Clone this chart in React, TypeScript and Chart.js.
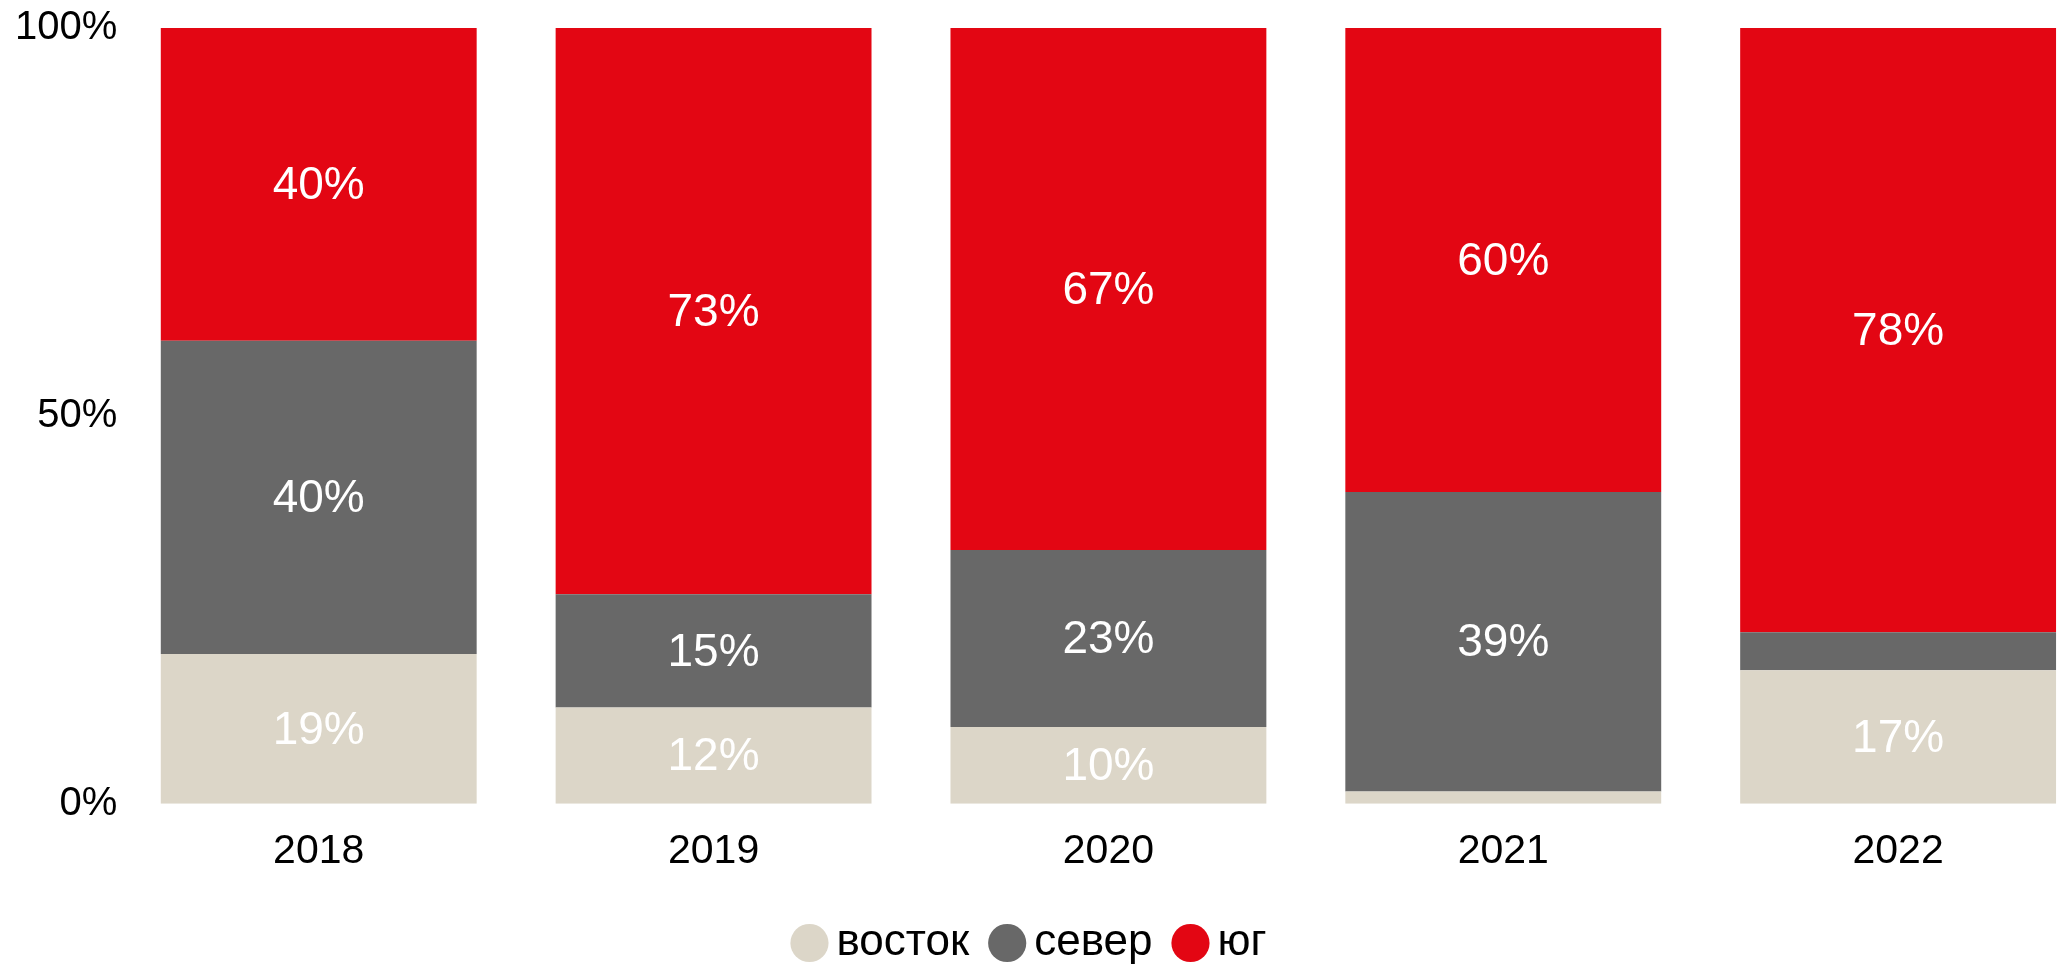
import React, { useEffect, useRef } from "react";
import { Chart, registerables } from "chart.js";

Chart.register(...registerables);

// ---- data ----
const years = [2018, 2019, 2020, 2021, 2022];
const vostok = [19.3, 12.4, 9.9, 1.6, 17.2];
const sever = [40.4, 14.6, 22.8, 38.6, 4.9];
const yug = [40.3, 73.0, 67.3, 59.8, 77.9];
const seriesNames = ["восток", "север", "юг"];
const seriesColors = ["#DCD6C8", "#686868", "#E30613"];
const yTicks = [0, 50, 100];

const FONT = '"Liberation Sans", Arial, sans-serif';

const segLabels = {
  id: "segLabels",
  afterDatasetsDraw(chart: any) {
    const ctx = chart.ctx;
    ctx.save();
    ctx.font = `46px ${FONT}`;
    ctx.fillStyle = "#ffffff";
    ctx.textAlign = "center";
    ctx.textBaseline = "middle";
    chart.data.datasets.forEach((ds: any, di: number) => {
      const meta = chart.getDatasetMeta(di);
      meta.data.forEach((el: any, i: number) => {
        const v = ds.data[i].y;
        if (v < 6) return;
        const p = el.getProps(["x", "y", "base"], true);
        ctx.fillText(Math.round(v) + "%", p.x, (p.y + p.base) / 2 + 2);
      });
    });
    ctx.restore();
  },
};

export default function App() {
  const ref = useRef<HTMLCanvasElement | null>(null);

  useEffect(() => {
    document.body.style.margin = "0";
    if (!ref.current) return;
    const series = [vostok, sever, yug];
    const chart = new Chart(ref.current, {
      type: "bar",
      data: {
        datasets: series.map((vals, si) => ({
          label: seriesNames[si],
          data: vals.map((v, i) => ({ x: years[i], y: v })),
          backgroundColor: seriesColors[si],
          borderWidth: 0,
          categoryPercentage: 0.8,
          barPercentage: 1.0,
        })),
      },
      options: {
        responsive: false,
        animation: false,
        events: [],
        layout: { padding: { top: 23, left: 11, right: 0, bottom: 0 } },
        scales: {
          x: {
            type: "linear",
            stacked: true,
            bounds: "data",
            offset: false,
            min: years[0] - 0.5,
            max: years[years.length - 1] + 0.41,
            afterBuildTicks: (axis: any) => {
              axis.ticks = years.map((v) => ({ value: v }));
            },
            afterFit: (axis: any) => {
              axis.height -= 11;
            },
            grid: { display: false, drawTicks: false, offset: false },
            border: { display: false },
            ticks: {
              color: "#000",
              font: { family: FONT, size: 41 },
              padding: 23,
              maxRotation: 0,
              autoSkip: false,
              includeBounds: false,
              callback: (v: any) => String(v),
            },
          },
          y: {
            stacked: true,
            min: 0,
            max: 100,
            afterBuildTicks: (axis: any) => {
              axis.ticks = yTicks.map((v) => ({ value: v }));
            },
            grid: { display: false, drawTicks: false },
            border: { display: false },
            ticks: {
              color: "#000",
              font: { family: FONT, size: 40 },
              padding: 4,
              callback: (v: any) => v + "%",
            },
          },
        },
        plugins: {
          tooltip: { enabled: false },
          legend: {
            position: "bottom",
            labels: {
              usePointStyle: true,
              pointStyle: "circle",
              boxWidth: 10,
              boxHeight: 27,
              padding: 33,
              color: "#000",
              font: { family: FONT, size: 44 },
            },
          },
        },
      },
      plugins: [segLabels],
    } as any);
    return () => chart.destroy();
  }, []);

  return (
    <div style={{ width: 2060, height: 966, overflow: "hidden" }}>
      <canvas ref={ref} width={2060} height={975} style={{ display: "block" }} />
    </div>
  );
}
